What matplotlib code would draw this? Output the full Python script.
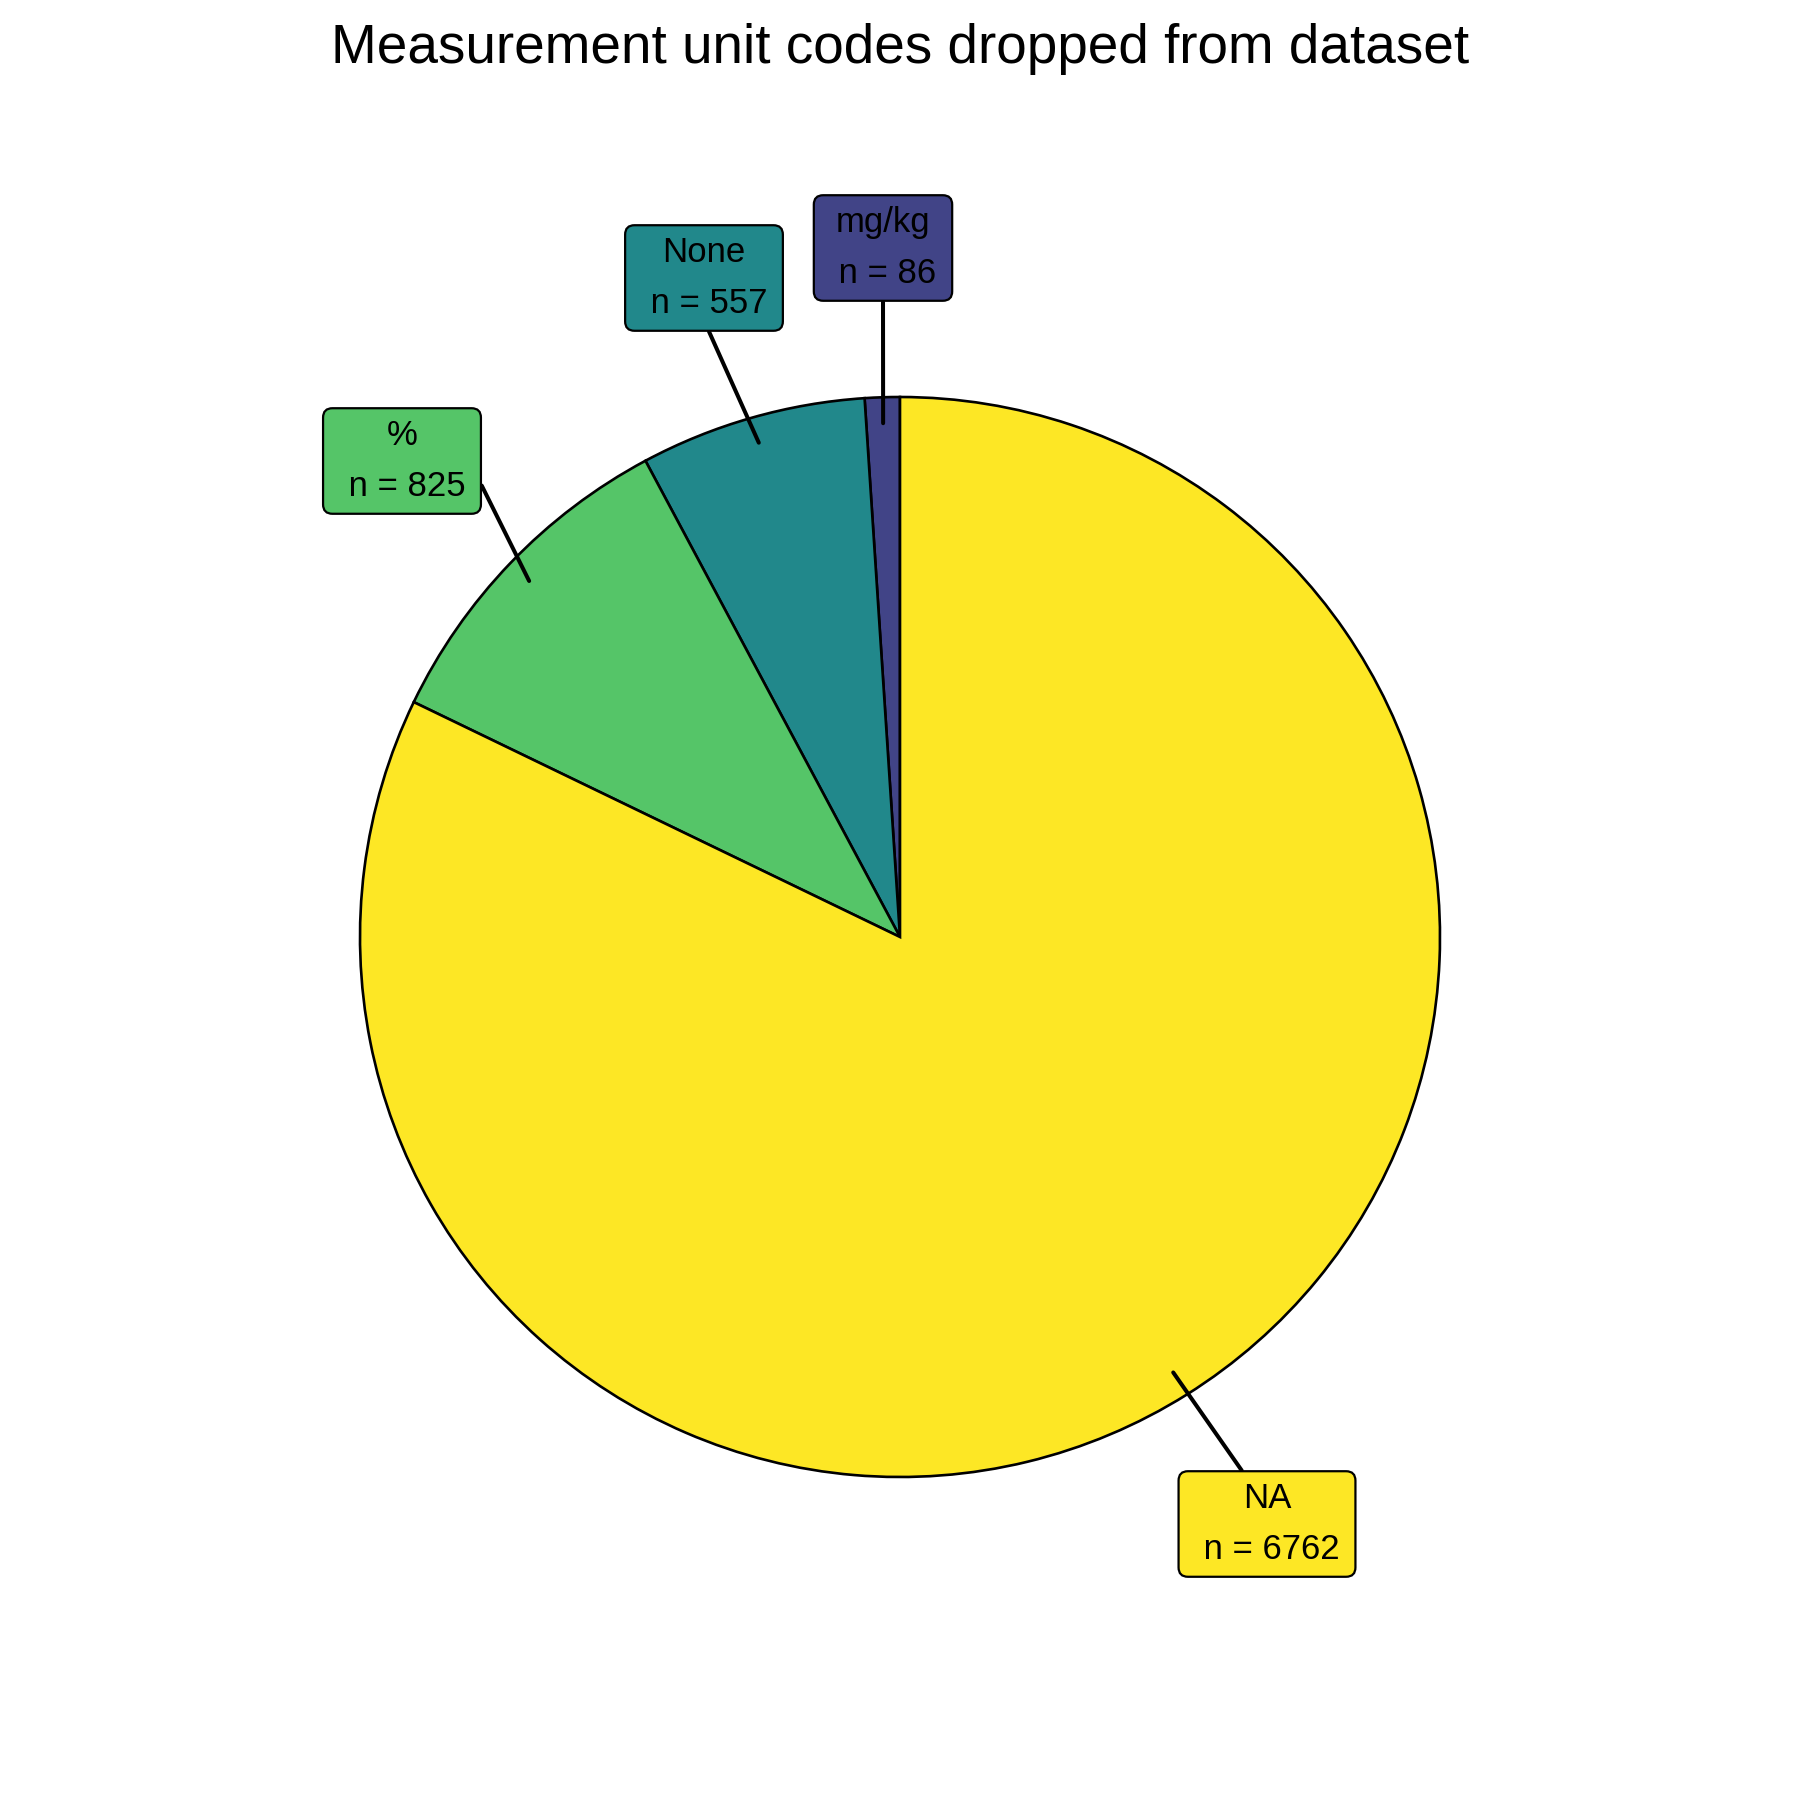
import numpy as np
import matplotlib
matplotlib.use("Agg")
import matplotlib.pyplot as plt
from matplotlib.patches import BoxStyle

# Data
units = ["mg/kg", "None", "%", "NA"]
counts = [86, 557, 825, 6762]
colors = ["#414487", "#21888B", "#55C568", "#FDE725"]
title = "Measurement unit codes dropped from dataset"

# Layout (pixel space, origin top-left)
W = H = 1800
cx, cy, R = 900, 937, 540
label_pos = [(883, 248), (704, 278), (402, 461), (1267, 1524)]
seg_relpos = [(0.5, 0.0), (0.5, 0.0), (1.0, 0.6), (0.38, 1.0)]

plt.rcParams['font.family'] = ['Liberation Sans', 'DejaVu Sans']


def label_box(x0, y0, width, height, mutation_size, padx=0.45, pady=0.30):
    px = padx * mutation_size
    py = pady * mutation_size
    return BoxStyle.Round(pad=0, rounding_size=0.27 * mutation_size)(
        x0 - px, y0 - py, width + 2 * px, height + 2 * py, 1.0)


fig = plt.figure(figsize=(18, 18), dpi=100)
ax = fig.add_axes([0, 0, 1, 1])

wedges, _ = ax.pie(counts, colors=colors, startangle=90, counterclock=True,
                   center=(cx, H - cy), radius=R,
                   wedgeprops=dict(edgecolor='black', linewidth=1.9))
ax.set_xlim(0, W)
ax.set_ylim(0, H)
ax.set_aspect('equal')
ax.axis('off')

total = sum(counts)
start = 90.0
for unit, n, col, (lx, ly), rp in zip(units, counts, colors, label_pos, seg_relpos):
    sweep = n / total * 360.0
    mid = np.deg2rad(start + sweep / 2)
    start += sweep
    px = cx + 0.952 * R * np.cos(mid)
    py = (H - cy) + 0.952 * R * np.sin(mid)
    ax.annotate(f"{unit}\n n = {n}", xy=(px, py), xytext=(lx, H - ly),
                ha='center', va='center', fontsize=25, linespacing=1.72,
                bbox=dict(boxstyle=label_box, fc=col, ec='black', lw=1.6),
                arrowprops=dict(arrowstyle='-', color='black', lw=2.9,
                                shrinkA=0, shrinkB=0, relpos=rp))

fig.text(900 / W, 1 - 63 / H, title, ha='center', va='baseline', fontsize=39.5)

fig.savefig("out.png", dpi=100)
